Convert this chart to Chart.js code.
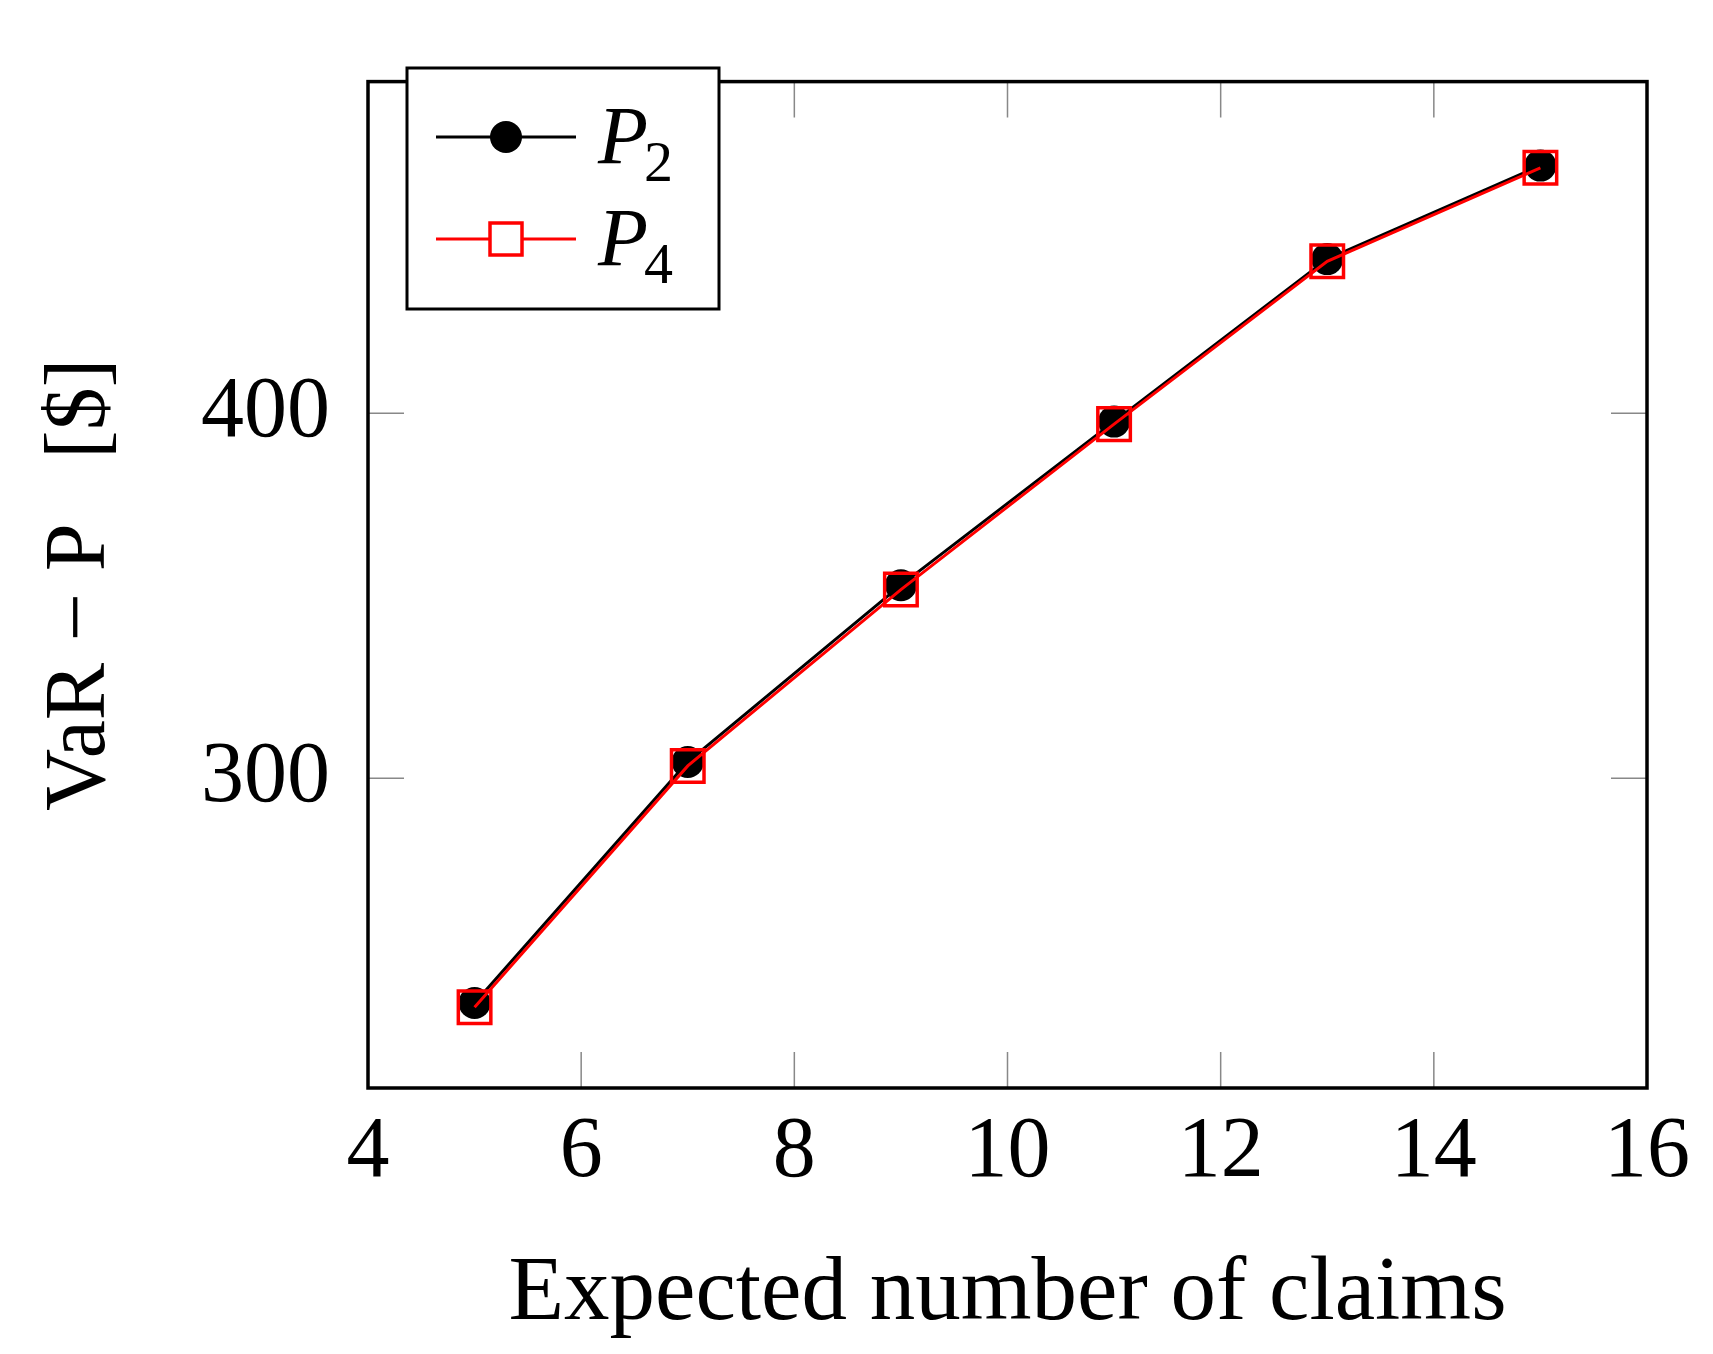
<!DOCTYPE html>
<html><head><meta charset="utf-8">
<script src="https://cdn.jsdelivr.net/npm/chart.js@4/dist/chart.umd.min.js"></script>
<style>html,body{margin:0;padding:0;background:#fff}</style>
</head><body>
<canvas id="c" width="1713" height="1354" style="width:1713px;height:1354px"></canvas>
<script>
const xValues = [5, 7, 9, 11, 13, 15];
const p2Values = [238.5, 304.5, 352.9, 397.7, 442.2, 467.8];
const p4Values = [237.3, 303.4, 351.7, 397.0, 441.6, 467.2];
const xTicks = [4, 6, 8, 10, 12, 14, 16];
const yTicks = [300, 400];
const seriesNames = [['P','2'], ['P','4']];
const FONT = '"Liberation Serif", "DejaVu Serif", serif';

const frame = {
  id: 'frame',
  afterDraw(chart) {
    const {ctx, chartArea: a, scales: {x, y}} = chart;
    ctx.save();
    ctx.strokeStyle = '#888'; ctx.lineWidth = 1.5;
    const L = 36;
    xTicks.forEach(v => { const px = x.getPixelForValue(v);
      ctx.beginPath(); ctx.moveTo(px, a.bottom); ctx.lineTo(px, a.bottom - L);
      ctx.moveTo(px, a.top); ctx.lineTo(px, a.top + L); ctx.stroke(); });
    yTicks.forEach(v => { const py = y.getPixelForValue(v);
      ctx.beginPath(); ctx.moveTo(a.left, py); ctx.lineTo(a.left + L, py);
      ctx.moveTo(a.right, py); ctx.lineTo(a.right - L, py); ctx.stroke(); });
    ctx.strokeStyle = '#000'; ctx.lineWidth = 3.5;
    ctx.strokeRect(a.left, a.top, a.right - a.left, a.bottom - a.top);
    const bx = 407, by = 68, bw = 312, bh = 241;
    ctx.fillStyle = '#fff'; ctx.fillRect(bx, by, bw, bh);
    ctx.lineWidth = 3; ctx.strokeRect(bx, by, bw, bh);
    const rows = [137, 239];
    chart.data.datasets.forEach((ds, i) => {
      const ry = rows[i];
      ctx.strokeStyle = ds.borderColor; ctx.lineWidth = 3;
      ctx.beginPath(); ctx.moveTo(436, ry); ctx.lineTo(576, ry); ctx.stroke();
      if (i === 0) { ctx.fillStyle = '#000'; ctx.beginPath(); ctx.arc(506, ry, 16, 0, Math.PI*2); ctx.fill(); }
      else { ctx.fillStyle = '#fff'; ctx.fillRect(490, ry-16, 32, 32); ctx.strokeStyle = 'red'; ctx.lineWidth = 3.5; ctx.strokeRect(490, ry-16, 32, 32); }
      ctx.fillStyle = '#000'; ctx.textBaseline = 'alphabetic'; ctx.textAlign = 'left';
      ctx.font = 'italic 82px ' + FONT;
      ctx.fillText(seriesNames[i][0], 598, ry + 26);
      const w = ctx.measureText(seriesNames[i][0]).width;
      ctx.font = '58px ' + FONT;
      ctx.fillText(seriesNames[i][1], 598 + w - 4, ry + 44);
    });
    ctx.restore();
  }
};

new Chart(document.getElementById('c'), {
  type: 'line',
  data: { datasets: [
    { label: 'P2', data: xValues.map((v, i) => ({x: v, y: p2Values[i]})), borderColor: '#000', backgroundColor: '#000',
      borderWidth: 3, pointStyle: 'circle', pointRadius: 16, pointBorderWidth: 0, order: 2 },
    { label: 'P4', data: xValues.map((v, i) => ({x: v, y: p4Values[i]})), borderColor: 'red', backgroundColor: 'rgba(0,0,0,0)',
      borderWidth: 3, pointStyle: 'rect', pointRadius: 23, pointBorderWidth: 3.5, order: 1 }
  ]},
  options: {
    responsive: false, animation: false, devicePixelRatio: 1,
    layout: { padding: { top: -7, right: 66, left: 0, bottom: 0 } },
    plugins: { legend: { display: false }, tooltip: { enabled: false } },
    scales: {
      x: { type: 'linear', min: 4, max: 16,
        afterBuildTicks: s => { s.ticks = xTicks.map(v => ({value: v})); },
        afterFit: s => { s.height = 266; },
        grid: { display: false }, border: { display: false },
        ticks: { color: '#000', font: { family: FONT, size: 86 }, padding: 6, maxRotation: 0 },
        title: { display: true, text: 'Expected number of claims', color: '#000', font: { family: FONT, size: 91 }, padding: { top: 0 } } },
      y: { type: 'linear', min: 215.2, max: 490.8,
        afterBuildTicks: s => { s.ticks = yTicks.map(v => ({value: v})); },
        afterFit: s => { s.width = 368; },
        grid: { display: false }, border: { display: false },
        ticks: { color: '#000', font: { family: FONT, size: 86 }, padding: 30 },
        title: { display: true, text: 'VaR − P   [$]', color: '#000', font: { family: FONT, size: 86 }, padding: { top: 30 } } }
    }
  },
  plugins: [frame]
});
</script>
</body></html>
